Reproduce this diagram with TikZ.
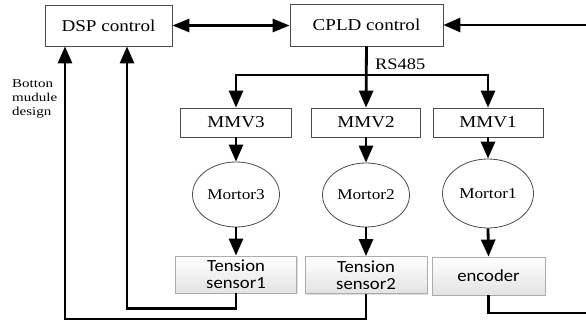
\documentclass[tikz,border=0pt]{standalone}
\usepackage{fontspec}
\setmainfont{Liberation Serif}
\newfontfamily\serifw[FakeStretch=1.15]{Liberation Serif}
\newfontfamily\sansw[FakeStretch=1.1]{Carlito}
\newfontfamily\smallw[FakeStretch=1.25]{Liberation Serif}
\usetikzlibrary{arrows.meta,shapes.geometric,shadows}
\begin{document}
\begin{tikzpicture}[x=1pt,y=-1pt,
  box/.style={draw=gray!60!black, line width=0.8pt, inner sep=0pt, minimum width=110pt, minimum height=29pt,
    font=\serifw\fontsize{16.6}{18}\selectfont},
  motor/.style={ellipse, draw=gray!60!black, line width=0.8pt, inner sep=0pt,
    font=\serifw\fontsize{15}{17}\selectfont},
  sensor/.style={draw=gray!65, line width=0.8pt, top color=white, bottom color=gray!22, inner sep=0pt,
    minimum height=37pt, align=center, font=\sansw\fontsize{17}{17}\selectfont,
    drop shadow={shadow xshift=1pt, shadow yshift=-1pt, opacity=0.25}},
  ln/.style={line width=2.8pt},
  arr/.style={line width=2.8pt, -{Triangle[length=17pt,width=14pt]}},
  dbl/.style={line width=2.8pt, {Triangle[length=17pt,width=13pt]}-{Triangle[length=17pt,width=13pt]}}
]
\useasboundingbox (0,0) rectangle (586,320);
\fill[white] (0,0) rectangle (586,320);
\node[box, minimum width=127pt, minimum height=41pt] (dsp) at (108.5,25.5) {DSP control};
\node[box, minimum width=153pt, minimum height=42pt] (cpld) at (366.5,25) {CPLD control};
\node[box, minimum width=111pt] (mmv3) at (236,122.5) {MMV3};
\node[box, minimum width=109pt] (mmv2) at (366,122.5) {MMV2};
\node[box] (mmv1) at (488,122.5) {MMV1};
\node[motor, minimum width=87pt, minimum height=65pt] (m3) at (236,194.5) {Mortor3};
\node[motor, minimum width=87pt, minimum height=64pt] (m2) at (366,195) {Mortor2};
\node[motor, minimum width=91pt, minimum height=69pt] (m1) at (488,193.5) {Mortor1};
\node[sensor, minimum width=121pt] (s1) at (236,274.5) {Tension\\sensor1};
\node[sensor, minimum width=122pt] (s2) at (366,275) {Tension\\sensor2};
\node[sensor, minimum width=113pt, minimum height=38pt] (enc) at (488.5,276) {encoder};
\node[font=\smallw\fontsize{12}{14}\selectfont, align=left, anchor=north west, inner sep=0pt] (lbl) at (12,79) {Botton\\mudule\\design};
\node[font=\serifw\fontsize{16}{18}\selectfont, anchor=west, inner sep=0pt] (rs) at (375,64) {RS485};
\coordinate (bus) at (366,75);
\coordinate (rin) at (592,25);
\coordinate (rout) at (592,313);
\draw[dbl] (dsp.east) -- (dsp.east -| cpld.west);
\draw[arr] (rin) -- (cpld.east);
\draw[arr] (cpld.south) -- (mmv2.north);
\draw[arr] (bus) -| (mmv3.north);
\draw[arr] (bus) -| (mmv1.north);
\draw[arr] (mmv3.south) -- (m3.north);
\draw[arr] (mmv2.south) -- (m2.north);
\draw[arr] (mmv1.south) -- (m1.north);
\draw[arr] (m3.south) -- (s1.north);
\draw[arr] (m2.south) -- (s2.north);
\draw[arr] (m1.south) -- (enc.north);
\draw[arr] (s1.south) -- ++(0,15) -| ([xshift=18.5pt]dsp.south);
\draw[arr] (s2.south) -- ++(0,25) -| ([xshift=-43.5pt]dsp.south);
\draw[ln] (enc.south) |- (rout);
\end{tikzpicture}
\end{document}
